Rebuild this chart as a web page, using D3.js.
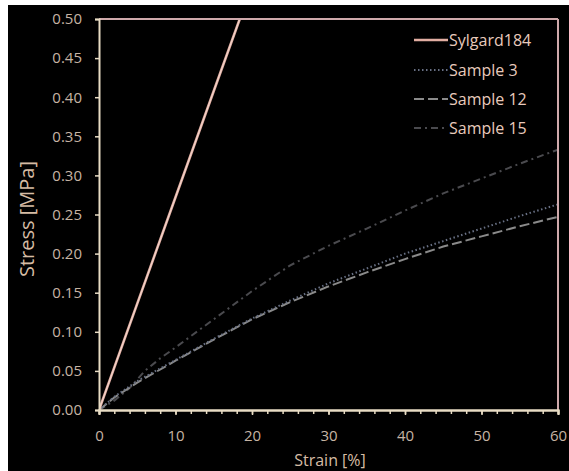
<!DOCTYPE html>
<html>
<head>
<meta charset="utf-8">
<script src="https://cdn.jsdelivr.net/npm/d3@7"></script>
<style>
  html, body { margin: 0; padding: 0; background: #fff; }
  svg { display: block; }
</style>
</head>
<body>
<script>
// ---- data ----
const seriesNames = ["Sylgard184", "Sample 3", "Sample 12", "Sample 15"];
const sylgardStrain = [0, 5, 10, 15, 18.4];
const sylgardStress = [0, 0.136, 0.272, 0.408, 0.5];
const sample3Strain = [0, 2, 5, 10, 15, 20, 25, 30, 35, 40, 45, 50, 55, 60];
const sample3Stress = [0, 0.017, 0.037, 0.064, 0.091, 0.117, 0.140, 0.162, 0.181, 0.200, 0.216, 0.232, 0.248, 0.263];
const sample12Strain = [0, 2, 5, 10, 15, 20, 25, 30, 35, 40, 45, 50, 55, 60];
const sample12Stress = [0, 0.016, 0.035, 0.063, 0.090, 0.116, 0.138, 0.158, 0.176, 0.193, 0.209, 0.222, 0.235, 0.247];
const sample15Strain = [0, 2, 4, 6, 8, 10, 15, 20, 25, 30, 35, 40, 45, 50, 55, 60];
const sample15Stress = [0, 0.012, 0.028, 0.050, 0.066, 0.080, 0.116, 0.152, 0.185, 0.210, 0.232, 0.255, 0.277, 0.296, 0.315, 0.333];
const xTicks = [0, 10, 20, 30, 40, 50, 60];
const yTicks = [0, 0.05, 0.10, 0.15, 0.20, 0.25, 0.30, 0.35, 0.40, 0.45, 0.50];

const W = 569, H = 471;
const svg = d3.select("body").append("svg").attr("width", W).attr("height", H);
svg.append("rect").attr("x", 8).attr("y", 5).attr("width", W - 8).attr("height", H - 5).attr("fill", "#000");

const m = { left: 99, right: 558, top: 19, bottom: 410 };
const x = d3.scaleLinear().domain([0, 60]).range([m.left, m.right]);
const y = d3.scaleLinear().domain([0, 0.5]).range([m.bottom, m.top]);

const font = "'Open Sans', 'DejaVu Sans', sans-serif";
const tickCol = "#c6b4a4";
const axisCol = "#e8dcc4";
const boxCol = "#cfa9ab";

svg.append("clipPath").attr("id", "clip").append("rect")
  .attr("x", m.left).attr("y", m.top).attr("width", m.right - m.left).attr("height", m.bottom - m.top);

const line = d3.line().x(d => x(d[0])).y(d => y(d[1]));
const series = [
  { name: seriesNames[0], xs: sylgardStrain, ys: sylgardStress, color: "#e2aea2", width: 2.6, dash: null },
  { name: seriesNames[1], xs: sample3Strain, ys: sample3Stress, color: "#687084", width: 2, dash: "1.5,2.5" },
  { name: seriesNames[2], xs: sample12Strain, ys: sample12Stress, color: "#8a8a8a", width: 2, dash: "10,4" },
  { name: seriesNames[3], xs: sample15Strain, ys: sample15Stress, color: "#4a4a4e", width: 2, dash: "7,4,2,4" }
];

const g = svg.append("g").attr("clip-path", "url(#clip)");
series.slice().reverse().forEach(s => {
  const pts = s.xs.map((v, i) => [v, s.ys[i]]);
  g.append("path").attr("d", line(pts)).attr("fill", "none")
    .attr("stroke", s.color).attr("stroke-width", s.width)
    .attr("stroke-dasharray", s.dash);
  if (s.name === "Sylgard184") {
    g.append("path").attr("d", line(pts)).attr("fill", "none")
      .attr("stroke", "#f4dcd4").attr("stroke-width", 0.9);
  }
});

// box top/right
svg.append("line").attr("x1", m.left).attr("x2", m.right).attr("y1", m.top).attr("y2", m.top)
  .attr("stroke", boxCol).attr("stroke-width", 2);
svg.append("line").attr("x1", m.right).attr("x2", m.right).attr("y1", m.top).attr("y2", m.bottom)
  .attr("stroke", boxCol).attr("stroke-width", 2);

// axes
const xAxis = d3.axisBottom(x).tickValues(xTicks).tickFormat(d3.format("d")).tickSize(5).tickPadding(15);
const xMinor = d3.axisBottom(x).tickValues(d3.range(0, 61, 2)).tickFormat("").tickSize(4);
const yAxis = d3.axisLeft(y).tickValues(yTicks).tickFormat(d3.format(".2f")).tickSize(4).tickPadding(13);

const gxm = svg.append("g").attr("transform", `translate(0,${m.bottom})`).call(xMinor);
const gx = svg.append("g").attr("transform", `translate(0,${m.bottom})`).call(xAxis);
const gy = svg.append("g").attr("transform", `translate(${m.left},0)`).call(yAxis);
[gx, gy, gxm].forEach(a => {
  a.select(".domain").attr("stroke", axisCol).attr("stroke-width", 2);
  a.selectAll(".tick line").attr("stroke", axisCol).attr("stroke-width", 1.5);
  a.selectAll(".tick text").attr("fill", tickCol).attr("font-family", font).attr("font-size", 15);
});

// axis titles
svg.append("text").attr("x", 330).attr("y", 466).attr("text-anchor", "middle")
  .attr("fill", "#d6bca4").attr("font-family", font).attr("font-size", 16).text("Strain [%]");
svg.append("text").attr("transform", `translate(34,219) rotate(-90)`)
  .attr("text-anchor", "middle").attr("fill", "#d6bca4").attr("font-family", font)
  .attr("font-size", 20).text("Stress [MPa]");

// legend
const lg = svg.append("g");
const legendY = [40, 70, 99, 128];
series.forEach((s, i) => {
  const yy = legendY[i];
  lg.append("line").attr("x1", 414).attr("x2", 448).attr("y1", yy).attr("y2", yy)
    .attr("stroke", s.color).attr("stroke-width", s.width).attr("stroke-dasharray", s.dash);
  lg.append("text").attr("x", 449).attr("y", yy).attr("dy", "0.35em")
    .attr("fill", "#e8cabc").attr("font-family", font).attr("font-size", 16).text(s.name);
});
</script>
</body>
</html>
